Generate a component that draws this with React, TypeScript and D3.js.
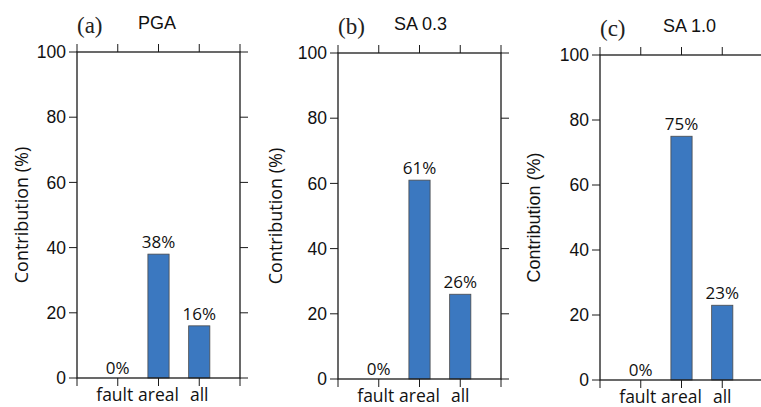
import { useEffect, useRef } from 'react';
import * as d3 from 'd3';

const categories = ['fault', 'areal', 'all'];
const panelLetters = ['(a)', '(b)', '(c)'];
const panelTitles = ['PGA', 'SA 0.3', 'SA 1.0'];
const pgaValues = [0, 38, 16];
const sa03Values = [0, 61, 26];
const sa10Values = [0, 75, 23];
const yTicks = [0, 20, 40, 60, 80, 100];
const yLabel = 'Contribution (%)';

const BAR_FILL = '#3b78c0';
const FRAME = '#1a1a1a';
const SANS = '"Liberation Sans", Arial, sans-serif';
const SOFT = '"Open Sans", "Noto Sans", sans-serif';

// frame boxes per panel (left, top, bottom)
const panels = [
  { left: 77, top: 52, bottom: 378, values: pgaValues, titleDx: 61, labelX: 22 },
  { left: 338, top: 53, bottom: 379, values: sa03Values, titleDx: 56, labelX: 276 },
  { left: 600, top: 55, bottom: 380, values: sa10Values, titleDx: 63, labelX: 534 },
];
const PANEL_W = 163;
const TICK = 8;

export default function App() {
  const svgRef = useRef<SVGSVGElement>(null);

  useEffect(() => {
    if (!svgRef.current) return;
    const svg = d3.select(svgRef.current);
    svg.selectAll('*').remove();

    panels.forEach((p, i) => {
      const x = d3.scaleLinear().domain([0, 4]).range([p.left, p.left + PANEL_W]);
      const y = d3.scaleLinear().domain([0, 100]).range([p.bottom, p.top]);
      const g = svg.append('g');
      const bw = x(0.52) - x(0);

      // bars
      g.selectAll('.bar')
        .data(p.values.map((v, k) => ({ v, k })).filter(d => d.v > 0))
        .enter()
        .append('rect')
        .attr('x', d => x(d.k + 1) - bw / 2)
        .attr('y', d => y(d.v))
        .attr('width', bw)
        .attr('height', d => y(0) - y(d.v))
        .attr('fill', BAR_FILL)
        .attr('stroke', '#4a4a4a')
        .attr('stroke-width', 0.8);

      // value labels
      g.selectAll('.val')
        .data(p.values)
        .enter()
        .append('text')
        .attr('x', (_, k) => x(k + 1))
        .attr('y', d => y(d) - (d > 0 ? 6 : 4))
        .attr('text-anchor', 'middle')
        .style('font-family', SOFT)
        .style('font-size', '17px')
        .style('fill', '#111')
        .text(d => `${d}%`);

      // frame
      g.append('rect')
        .attr('x', x(0))
        .attr('y', y(100))
        .attr('width', x(4) - x(0))
        .attr('height', y(0) - y(100))
        .attr('fill', 'none')
        .attr('stroke', FRAME)
        .attr('stroke-width', 1.3);

      // x ticks top and bottom
      const xt = [0, 1, 2, 3, 4];
      g.selectAll('.xtb')
        .data(xt)
        .enter()
        .append('line')
        .attr('x1', d => x(d)).attr('x2', d => x(d))
        .attr('y1', y(0)).attr('y2', y(0) + TICK)
        .attr('stroke', FRAME).attr('stroke-width', 1);
      g.selectAll('.xtt')
        .data(xt)
        .enter()
        .append('line')
        .attr('x1', d => x(d)).attr('x2', d => x(d))
        .attr('y1', y(100)).attr('y2', y(100) - TICK)
        .attr('stroke', FRAME).attr('stroke-width', 1);

      // y ticks left and right
      g.selectAll('.ytl')
        .data(yTicks)
        .enter()
        .append('line')
        .attr('x1', x(0) - TICK).attr('x2', x(0))
        .attr('y1', d => y(d)).attr('y2', d => y(d))
        .attr('stroke', FRAME).attr('stroke-width', 1);
      g.selectAll('.ytr')
        .data(yTicks)
        .enter()
        .append('line')
        .attr('x1', x(4)).attr('x2', x(4) + TICK)
        .attr('y1', d => y(d)).attr('y2', d => y(d))
        .attr('stroke', FRAME).attr('stroke-width', 1);

      // y tick labels
      g.selectAll('.ylab')
        .data(yTicks)
        .enter()
        .append('text')
        .attr('x', x(0) - TICK - 3)
        .attr('y', d => y(d))
        .attr('dy', '0.35em')
        .attr('text-anchor', 'end')
        .style('font-family', SANS)
        .style('font-size', '17.5px')
        .style('fill', '#111')
        .text(d => d);

      // category labels
      g.selectAll('.cat')
        .data(categories)
        .enter()
        .append('text')
        .attr('x', (_, k) => x(k + 1) + (k === 0 ? -3 : 0))
        .attr('y', p.bottom + 23)
        .attr('text-anchor', 'middle')
        .style('font-family', SOFT)
        .style('font-size', '17.5px')
        .style('fill', '#111')
        .text(d => d);

      // y axis title
      g.append('text')
        .attr('transform', `translate(${p.labelX},${(y(0) + y(100)) / 2}) rotate(-90)`)
        .attr('dy', '0.35em')
        .attr('text-anchor', 'middle')
        .style('font-family', i === 2 ? SANS : SOFT)
        .style('font-size', '18px')
        .style('fill', '#111')
        .text(yLabel);

      // panel letter + title
      g.append('text')
        .attr('x', x(0))
        .attr('y', p.top - 19)
        .style('font-family', '"Liberation Serif", "Times New Roman", serif')
        .style('font-size', '23px')
        .style('fill', '#222')
        .text(panelLetters[i]);
      g.append('text')
        .attr('x', x(0) + p.titleDx)
        .attr('y', p.top - 23)
        .style('font-family', SANS)
        .style('font-size', '18px')
        .style('fill', '#111')
        .text(panelTitles[i]);
    });
  }, []);

  return (
    <svg
      ref={svgRef}
      width={761}
      height={407}
      style={{ position: 'absolute', left: 0, top: 0, background: '#fff' }}
    />
  );
}
